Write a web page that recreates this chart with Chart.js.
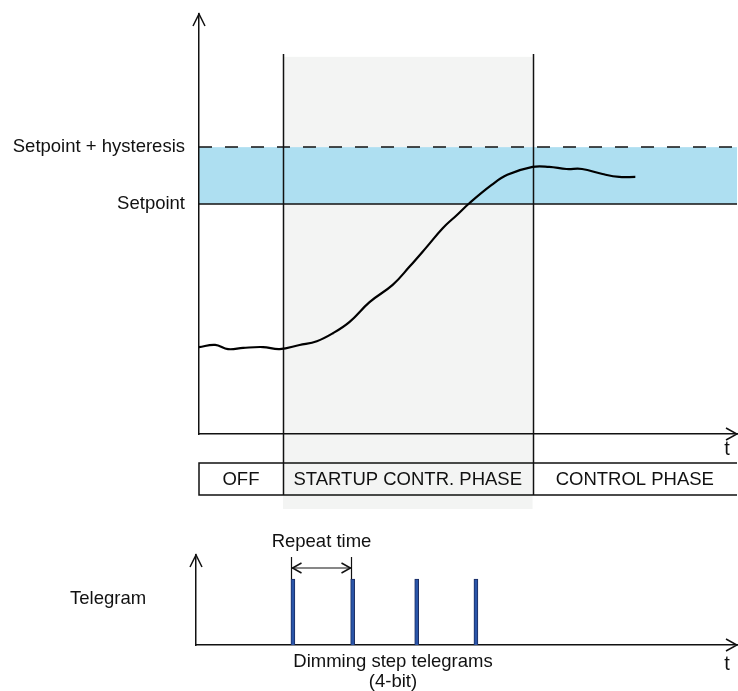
<!DOCTYPE html>
<html>
<head>
<meta charset="utf-8">
<script src="https://cdn.jsdelivr.net/npm/chart.js@4.4.0/dist/chart.umd.min.js"></script>
<style>
  html, body { margin: 0; padding: 0; background: #fff; }
  #wrap { position: relative; width: 738px; height: 691px; }
  #tempChart { position: absolute; left: 0; top: 0; }
  #telegramChart { position: absolute; left: 0; top: 520px; }
</style>
</head>
<body>
<div id="wrap">
  <canvas id="tempChart" width="738" height="520"></canvas>
  <canvas id="telegramChart" width="738" height="171"></canvas>
</div>
<script>
// time axis runs 0..100 (no ticks shown), value axis 0..100
const curveTime  = [0, 3.0, 5.4, 8.2, 11.9, 15.0, 18.7, 21.9, 24.9, 28.0, 31.7, 36.0, 39.1, 42.3, 45.3, 47.9, 50.3, 54.4, 57.3, 62.0, 65.1, 68.3, 71.2, 75.0, 78.1, 81.1];
const curveValue = [20.7, 21.2, 20.2, 20.5, 20.7, 20.2, 21.2, 22.1, 24.0, 26.7, 31.4, 35.5, 39.8, 44.5, 49.0, 52.1, 55.0, 59.3, 61.7, 63.6, 63.6, 63.1, 63.1, 61.9, 61.2, 61.2];

const setpoint = 54.8;
const hysteresisTop = 68.3;
const levelValues = [setpoint, hysteresisTop];
const levelLabels = ['Setpoint', 'Setpoint + hysteresis'];

const phaseBounds = [0, 15.6, 62.0, 100];
const phaseLabels = ['OFF', 'STARTUP CONTR. PHASE', 'CONTROL PHASE'];
const phaseTop = 90.5;   // where the phase divider lines start
const shadeTop = 89.8;   // top of the grey startup area

const telegramTimes = [17.5, 28.6, 40.5, 51.5];
const telegramHeight = 73.3;

const FONT = '"Liberation Sans", Arial, sans-serif';
const INK = '#111';
const FS = 18.5;

function arrowUp(ctx, x, y) {
  ctx.beginPath();
  ctx.moveTo(x - 6, y + 12);
  ctx.lineTo(x, y);
  ctx.lineTo(x + 6, y + 12);
  ctx.stroke();
}
function arrowRight(ctx, x, y) {
  ctx.beginPath();
  ctx.moveTo(x - 11, y - 6);
  ctx.lineTo(x, y);
  ctx.lineTo(x - 11, y + 6);
  ctx.stroke();
}

const tempDecor = {
  id: 'tempDecor',
  beforeDraw(chart) {
    const { ctx, chartArea: a, scales: { x, y } } = chart;
    ctx.save();
    // grey startup phase
    const sx0 = x.getPixelForValue(phaseBounds[1]);
    const sx1 = x.getPixelForValue(phaseBounds[2]);
    const sTop = y.getPixelForValue(shadeTop);
    ctx.fillStyle = '#f3f4f3';
    ctx.fillRect(sx0, sTop, sx1 - sx0, a.bottom + 75 - sTop);
    // hysteresis band
    const yH = y.getPixelForValue(hysteresisTop);
    const yS = y.getPixelForValue(setpoint);
    ctx.fillStyle = '#aedff1';
    ctx.fillRect(a.left, yH, a.right - a.left, yS - yH);
    ctx.restore();
  },
  beforeDatasetsDraw(chart) {
    const { ctx, chartArea: a, scales: { x, y } } = chart;
    ctx.save();
    ctx.strokeStyle = INK;
    ctx.lineWidth = 1.5;
    const yH = Math.round(y.getPixelForValue(hysteresisTop));
    const yS = Math.round(y.getPixelForValue(setpoint));
    ctx.beginPath();
    ctx.moveTo(a.left, yS);
    ctx.lineTo(a.right, yS);
    ctx.stroke();
    ctx.setLineDash([13, 13]);
    ctx.beginPath();
    ctx.moveTo(a.left, yH);
    ctx.lineTo(a.right, yH);
    ctx.stroke();
    ctx.setLineDash([]);

    // phase boxes
    const boxTop = a.bottom + 29;
    const boxBot = a.bottom + 61;
    ctx.beginPath();
    ctx.moveTo(a.right, boxTop);
    ctx.lineTo(a.left, boxTop);
    ctx.lineTo(a.left, boxBot);
    ctx.lineTo(a.right, boxBot);
    ctx.stroke();
    // phase dividers
    const pTop = y.getPixelForValue(phaseTop);
    [phaseBounds[1], phaseBounds[2]].forEach(v => {
      const px = Math.round(x.getPixelForValue(v)) + 0.5;
      ctx.beginPath();
      ctx.moveTo(px, pTop);
      ctx.lineTo(px, boxBot);
      ctx.stroke();
    });
    ctx.fillStyle = INK;
    ctx.font = FS + 'px ' + FONT;
    ctx.textAlign = 'center';
    ctx.textBaseline = 'middle';
    phaseLabels.forEach((lab, i) => {
      const cx = (x.getPixelForValue(phaseBounds[i]) + x.getPixelForValue(phaseBounds[i + 1])) / 2;
      ctx.fillText(lab, cx, (boxTop + boxBot) / 2 + 1);
    });
    ctx.restore();
  },
  afterDraw(chart) {
    const { ctx, chartArea: a } = chart;
    ctx.save();
    ctx.strokeStyle = INK;
    ctx.lineWidth = 1.5;
    arrowUp(ctx, a.left, a.top);
    arrowRight(ctx, a.right, a.bottom);
    ctx.fillStyle = INK;
    ctx.font = '20px ' + FONT;
    ctx.textAlign = 'center';
    ctx.textBaseline = 'alphabetic';
    ctx.fillText('t', a.right - 10, a.bottom + 21);
    ctx.restore();
  }
};

new Chart(document.getElementById('tempChart'), {
  type: 'line',
  data: {
    datasets: [{
      data: curveTime.map((t, i) => ({ x: t, y: curveValue[i] })),
      borderColor: '#000',
      borderWidth: 2.2,
      pointRadius: 0,
      tension: 0.4,
      fill: false
    }]
  },
  options: {
    responsive: false,
    animation: false,
    devicePixelRatio: 1,
    layout: { padding: { top: 14, right: 1, left: 0, bottom: 0 } },
    plugins: { legend: { display: false }, tooltip: { enabled: false } },
    scales: {
      x: {
        type: 'linear', min: 0, max: 100,
        grid: { display: false, drawTicks: false },
        border: { display: true, color: INK, width: 1.5 },
        ticks: { display: false },
        afterFit(scale) { scale.height = 86; scale.paddingLeft = 0; scale.paddingRight = 0; }
      },
      y: {
        type: 'linear', min: 0, max: 100,
        grid: { display: false, drawTicks: false },
        border: { display: true, color: INK, width: 1.5 },
        afterBuildTicks(scale) { scale.ticks = levelValues.map(v => ({ value: v })); },
        ticks: {
          autoSkip: false,
          padding: 14,
          color: INK,
          font: { family: FONT, size: FS },
          callback: (value, index) => levelLabels[index]
        },
        afterFit(scale) { scale.width = 199; scale.paddingTop = 0; scale.paddingBottom = 0; }
      }
    }
  },
  plugins: [tempDecor]
});

const telegramDecor = {
  id: 'telegramDecor',
  afterDraw(chart) {
    const { ctx, chartArea: a, scales: { x } } = chart;
    ctx.save();
    ctx.strokeStyle = INK;
    ctx.lineWidth = 1.5;
    arrowUp(ctx, a.left, a.top);
    arrowRight(ctx, a.right, a.bottom);

    // repeat time dimension
    const x0 = Math.round(x.getPixelForValue(telegramTimes[0])) - 1.5;
    const x1 = Math.round(x.getPixelForValue(telegramTimes[1])) - 1.5;
    const yArr = a.top + 13;
    ctx.lineWidth = 1.2;
    ctx.beginPath();
    ctx.moveTo(x0, a.top + 2); ctx.lineTo(x0, a.top + 24);
    ctx.moveTo(x1, a.top + 2); ctx.lineTo(x1, a.top + 24);
    ctx.moveTo(x0, yArr); ctx.lineTo(x1, yArr);
    ctx.stroke();
    ctx.lineWidth = 1.5;
    ctx.beginPath();
    ctx.moveTo(x0 + 10, yArr - 5); ctx.lineTo(x0 + 1, yArr); ctx.lineTo(x0 + 10, yArr + 5);
    ctx.moveTo(x1 - 10, yArr - 5); ctx.lineTo(x1 - 1, yArr); ctx.lineTo(x1 - 10, yArr + 5);
    ctx.stroke();

    ctx.fillStyle = INK;
    ctx.font = FS + 'px ' + FONT;
    ctx.textBaseline = 'middle';
    ctx.textAlign = 'center';
    ctx.fillText('Repeat time', (x0 + x1) / 2, a.top - 13);
    ctx.textAlign = 'left';
    ctx.fillText('Telegram', 70, a.top + 44);
    ctx.textAlign = 'center';
    ctx.fillText('Dimming step telegrams', 393, a.bottom + 17);
    ctx.fillText('(4-bit)', 393, a.bottom + 37);
    ctx.font = '20px ' + FONT;
    ctx.textBaseline = 'alphabetic';
    ctx.fillText('t', a.right - 10, a.bottom + 25);
    ctx.restore();
  }
};

new Chart(document.getElementById('telegramChart'), {
  type: 'bar',
  data: {
    datasets: [{
      data: telegramTimes.map(t => ({ x: t, y: telegramHeight })),
      backgroundColor: '#2a55a8',
      borderColor: '#1b2d62',
      borderWidth: 1,
      barThickness: 4
    }]
  },
  options: {
    responsive: false,
    animation: false,
    devicePixelRatio: 1,
    layout: { padding: { top: 35, right: 1, left: 0, bottom: 0 } },
    plugins: { legend: { display: false }, tooltip: { enabled: false } },
    scales: {
      x: {
        type: 'linear', min: -0.5, max: 100, offset: false,
        grid: { display: false, drawTicks: false, offset: false },
        border: { display: true, color: INK, width: 1.5 },
        ticks: { display: false },
        afterFit(scale) { scale.height = 46; }
      },
      y: {
        type: 'linear', min: 0, max: 100,
        grid: { display: false, drawTicks: false },
        border: { display: true, color: INK, width: 1.5 },
        ticks: { display: false },
        afterFit(scale) { scale.width = 196; }
      }
    }
  },
  plugins: [telegramDecor]
});
</script>
</body>
</html>
